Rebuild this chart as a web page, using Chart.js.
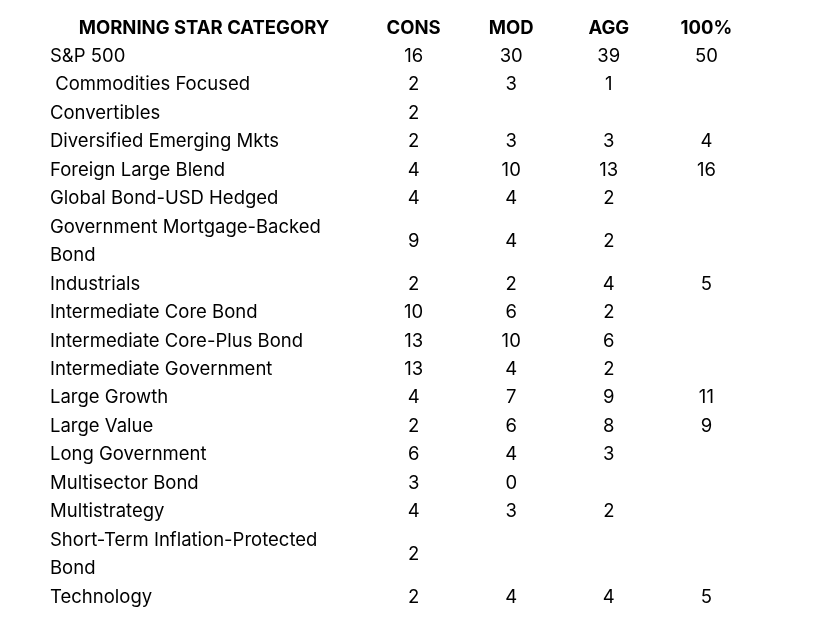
<!DOCTYPE html>
<html>
<head>
<meta charset="utf-8">
<script src="https://cdn.jsdelivr.net/npm/chart.js@4"></script>
<style>
  html, body { margin: 0; padding: 0; background: #fff; }
  #wrap { width: 827px; height: 628px; }
</style>
</head>
<body>
<div id="wrap"><canvas id="tbl"></canvas></div>
<script>
// Morningstar category weights per model portfolio (blank = not held)
const headerTitle = 'MORNING STAR CATEGORY';
const columns = ['CONS', 'MOD', 'AGG', '100%'];
const categories = [
  ['S&P 500'],
  [' Commodities Focused'],
  ['Convertibles'],
  ['Diversified Emerging Mkts'],
  ['Foreign Large Blend'],
  ['Global Bond-USD Hedged'],
  ['Government Mortgage-Backed', 'Bond'],
  ['Industrials'],
  ['Intermediate Core Bond'],
  ['Intermediate Core-Plus Bond'],
  ['Intermediate Government'],
  ['Large Growth'],
  ['Large Value'],
  ['Long Government'],
  ['Multisector Bond'],
  ['Multistrategy'],
  ['Short-Term Inflation-Protected', 'Bond'],
  ['Technology'],
];
const cons = [16, 2, 2, 2, 4, 4, 9, 2, 10, 13, 13, 4, 2, 6, 3, 4, 2, 2];
const mod  = [30, 3, null, 3, 10, 4, 4, 2, 6, 10, 4, 7, 6, 4, 0, 3, null, 4];
const agg  = [39, 1, null, 3, 13, 2, 2, 4, 2, 6, 2, 9, 8, 3, null, 2, null, 4];
const all  = [50, null, null, 4, 16, null, null, 5, null, null, null, 11, 9, null, null, null, null, 5];
const seriesVals = [cons, mod, agg, all];

// row centre in "line units": header is line 0, wrapped rows take two lines
const rowPos = [];
let line = 1;
categories.forEach(c => {
  rowPos.push(line + (c.length - 1) / 2);
  line += c.length;
});

const FONT = 'Inter';
const ink = '#000000';

const datasets = seriesVals.map((vals, ci) => ({
  label: columns[ci],
  data: vals.map((v, ri) => ({ x: ci + 1, y: rowPos[ri], v }))
             .filter(p => p.v !== null),
  pointRadius: 0,
  showLine: false,
}));

const cellText = {
  id: 'cellText',
  afterDatasetsDraw(chart) {
    const { ctx, scales: { x, y } } = chart;
    ctx.save();
    ctx.fillStyle = ink;
    ctx.textBaseline = 'middle';
    ctx.textAlign = 'center';
    // header row
    ctx.font = `bold 18.5px ${FONT}`;
    const yh = y.getPixelForValue(0);
    ctx.fillText(headerTitle, (y.left + y.right) / 2, yh);
    columns.forEach((c, i) => ctx.fillText(c, x.getPixelForValue(i + 1), yh));
    // values
    ctx.font = `18.5px ${FONT}`;
    chart.data.datasets.forEach((ds, di) => {
      const meta = chart.getDatasetMeta(di);
      meta.data.forEach((pt, k) => {
        ctx.fillText(String(ds.data[k].v), pt.x, pt.y);
      });
    });
    ctx.restore();
  }
};

new Chart(document.getElementById('tbl'), {
  type: 'scatter',
  data: { datasets },
  options: {
    responsive: true,
    maintainAspectRatio: false,
    animation: false,
    layout: { padding: { left: 50, right: 24, top: 20, bottom: 20 } },
    plugins: { legend: { display: false }, tooltip: { enabled: false } },
    scales: {
      x: {
        type: 'linear',
        display: false,
        min: 0.43,
        max: 4.99,
      },
      y: {
        type: 'linear',
        reverse: true,
        min: -0.281,
        max: 20.385,
        grid: { display: false },
        border: { display: false },
        afterBuildTicks: s => { s.ticks = rowPos.map(v => ({ value: v })); },
        afterFit: s => { s.width = 308; },
        ticks: {
          autoSkip: false,
          crossAlign: 'far',
          color: ink,
          padding: 0,
          font: { family: FONT, size: 18.5, lineHeight: 1.54 },
          callback: (val, i) => categories[i].length > 1 ? categories[i] : categories[i][0],
        },
      },
    },
  },
  plugins: [cellText],
});
</script>
</body>
</html>
